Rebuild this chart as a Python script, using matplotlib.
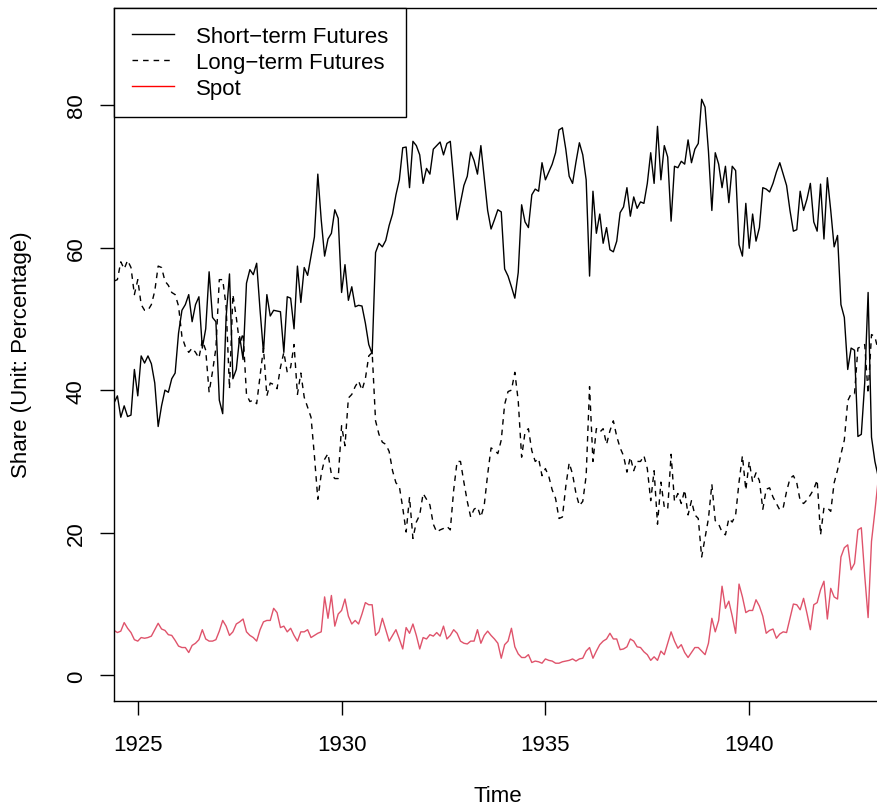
import matplotlib
matplotlib.use("Agg")
import numpy as np
import matplotlib.pyplot as plt
from matplotlib.lines import Line2D

# monthly shares (percent), June 1924 - March 1943
start_year = 1924 + 5 / 12

short_term = [
    38.2,
    39.2, 36.2, 37.8, 36.3, 36.5, 42.9, 39.2, 44.8, 43.8, 44.8, 43.7, 41.0, 34.9, 37.8,
    40.0, 39.7, 41.6, 42.4, 48.0, 51.2, 52.0, 53.4, 49.6, 52.0, 53.1, 45.9, 48.6, 56.6,
    50.2, 49.6, 38.6, 36.7, 50.2, 56.3, 41.6, 42.9, 47.5, 44.3,
    55.0, 56.9, 56.2, 57.8, 51.2, 45.3, 53.4, 50.4, 51.2, 51.1, 51.0, 45.3, 53.1, 52.9,
    48.6, 57.4, 52.3, 57.2, 56.1, 58.8, 61.5, 70.3, 63.9, 58.8, 61.2, 62.0, 65.3, 64.1,
    53.7, 57.6, 52.6, 54.5, 51.7, 51.9, 51.8, 49.4, 46.4, 45.1, 59.3,
    60.6, 60.1, 61.0, 63.1, 64.7, 67.4, 69.5, 74.0, 74.1, 68.4, 74.9, 74.3, 73.0, 69.0,
    71.1, 70.3, 73.8, 74.3, 74.8, 73.0, 74.6, 74.9, 69.5, 63.9, 66.3, 68.7, 70.0, 73.4,
    72.2, 70.3, 74.3, 69.8, 65.2, 62.6, 63.9, 65.3, 65.0,
    57.0, 56.0, 54.5, 52.9, 56.5, 66.0, 63.6, 62.8, 67.4, 68.2, 67.9, 71.9, 69.5, 70.6,
    71.7, 73.3, 76.5, 76.8, 73.8, 70.0, 69.0, 72.0, 74.7, 73.0, 69.5, 56.0, 67.9, 62.0,
    64.7, 60.6, 62.8, 59.7, 59.4, 60.9, 64.9, 65.7, 68.4, 64.4, 67.1,
    65.5, 66.4, 66.2, 69.0, 73.3, 69.0, 77.0, 69.5, 74.3, 72.7, 63.7, 71.4, 71.2, 72.1,
    71.7, 75.1, 71.9, 73.8, 74.6, 80.8, 79.7, 73.5, 65.2, 73.3, 71.7, 68.4, 71.4, 66.3,
    71.4, 70.8, 60.4, 58.8, 66.2, 59.9, 64.7, 60.9, 62.8, 68.4,
    68.2, 67.8, 69.0, 70.6, 71.9, 70.3, 68.7, 65.2, 62.3, 62.5, 67.9, 65.2, 66.8, 69.0,
    63.6, 62.3, 68.9, 61.2, 69.8, 65.2, 60.1, 61.7, 52.0, 50.2, 42.9, 45.9, 45.6, 33.5,
    33.8, 41.0, 53.7, 33.4, 30.0, 27.8,
]

long_term = [
    55.3,
    55.5, 58.0, 57.0, 58.2, 57.2, 53.4, 55.5, 52.0, 51.2, 51.2, 52.0, 53.9, 57.4, 57.2,
    55.3, 54.7, 53.7, 53.4, 51.8, 47.5, 46.1, 45.3, 45.9, 45.3, 44.5, 47.0, 45.6, 39.7,
    42.6, 45.9, 55.5, 55.5, 51.8, 40.2, 53.4, 50.2, 46.4, 48.0,
    39.4, 38.4, 38.6, 38.1, 42.0, 45.9, 39.2, 41.0, 40.8, 40.2, 43.2, 45.3, 42.5, 43.2,
    46.4, 39.4, 42.4, 39.0, 37.6, 36.2, 30.8, 24.7, 28.2, 30.3, 31.1, 28.2, 27.6, 27.6,
    35.0, 32.2, 38.9, 39.4, 40.5, 41.3, 40.0, 41.6, 44.8, 45.3, 35.7,
    33.8, 32.7, 32.4, 31.4, 28.7, 27.0, 26.5, 23.5, 20.1, 25.0, 19.2, 21.5, 22.5, 25.5,
    24.7, 23.9, 21.2, 20.1, 20.4, 20.6, 20.9, 20.4, 26.0, 30.0, 30.0, 27.1, 24.4, 22.2,
    23.3, 23.6, 22.2, 23.9, 28.2, 31.9, 31.6, 31.1, 33.0,
    38.0, 39.8, 40.0, 42.5, 38.5, 30.6, 34.1, 34.6, 31.5, 30.0, 30.4, 28.0, 29.0, 27.9,
    26.0, 24.8, 22.0, 22.2, 26.5, 29.8, 28.2, 25.5, 23.8, 24.4, 28.0, 40.5, 30.0, 34.6,
    34.1, 34.6, 32.4, 34.3, 35.7, 33.5, 31.9, 30.8, 28.5, 30.6, 28.7,
    30.0, 30.0, 30.8, 29.0, 24.5, 28.7, 21.2, 27.1, 23.6, 23.3, 31.0, 24.4, 25.5, 24.1,
    26.0, 22.5, 24.5, 22.5, 22.0, 16.6, 19.3, 22.0, 26.8, 21.7, 21.2, 20.1, 19.7, 22.0,
    21.5, 22.5, 27.1, 30.8, 26.0, 30.0, 27.1,
    28.4, 27.3, 23.3, 26.1, 26.3, 25.0, 24.1, 23.2, 23.5, 25.8, 27.6, 28.0, 27.0, 24.5,
    24.1, 24.6, 25.3, 26.1, 27.4, 19.7, 23.5, 23.5, 23.0, 27.0, 28.8, 31.0, 33.0, 38.5,
    39.5, 39.5, 45.9, 46.1, 46.4, 39.5, 47.8, 47.5, 45.5,
]

spot = [
    6.3,
    6.0, 6.2, 7.4, 6.6, 6.0, 5.0, 4.8, 5.3, 5.2, 5.3, 5.5, 6.4, 7.3, 6.5,
    6.3, 5.7, 5.6, 4.9, 4.1, 3.9, 3.9, 3.2, 4.2, 4.5, 5.0, 6.4, 5.1, 4.8,
    4.8, 5.0, 6.2, 7.7, 6.9, 5.6, 6.1, 7.2, 7.5, 7.9,
    6.1, 5.6, 5.3, 4.8, 6.4, 7.5, 7.7, 7.7, 9.4, 8.8, 6.7, 6.9, 6.1, 6.6,
    5.6, 4.8, 6.1, 6.1, 6.4, 5.3, 5.6, 5.9, 6.1, 11.0, 8.0, 11.2, 6.9, 8.6,
    9.1, 10.7, 8.3, 7.2, 7.7, 7.2, 8.6, 10.2, 9.9, 9.9, 5.6,
    6.1, 8.0, 6.4, 4.8, 5.6, 6.4, 5.1, 3.7, 6.7, 5.9, 7.2, 5.6, 3.7, 5.3,
    5.1, 5.7, 5.5, 6.0, 5.5, 6.9, 5.1, 5.6, 6.4, 5.9, 4.8, 4.5, 4.4, 4.8,
    4.8, 6.4, 4.5, 5.6, 6.2, 5.6, 5.1, 4.5, 2.4,
    4.3, 4.8, 6.6, 4.0, 3.0, 2.5, 2.5, 2.9, 1.8, 2.0, 1.9, 1.7, 2.3, 2.1,
    2.0, 1.7, 1.7, 1.9, 2.0, 2.1, 2.3, 2.0, 2.3, 2.4, 3.4, 3.9, 2.4, 3.4,
    4.3, 4.8, 5.1, 5.9, 5.1, 5.1, 3.6, 3.7, 4.0, 5.1, 4.8,
    4.0, 3.9, 3.3, 2.9, 2.1, 2.6, 2.1, 3.4, 2.9, 4.5, 6.1, 4.8, 3.8, 4.3,
    3.2, 2.5, 3.2, 3.9, 3.9, 3.4, 2.9, 4.5, 8.0, 6.1, 7.7, 12.5, 9.4, 10.4,
    8.3, 5.9, 12.8, 11.0, 8.8, 9.1, 9.1,
    10.6, 9.7, 8.3, 5.9, 6.3, 6.5, 5.2, 5.8, 6.1, 6.0, 8.0, 10.0, 9.9, 9.2,
    10.8, 8.7, 6.4, 9.9, 10.2, 12.0, 13.2, 7.9, 12.2, 11.0, 10.7, 16.6, 17.9, 18.3,
    14.8, 15.7, 20.4, 20.7, 14.0, 8.1, 18.8, 23.0, 27.6,
]

year_ticks = [1925, 1930, 1935, 1940]
share_ticks = [0, 20, 40, 60, 80]
labels = ["Short\u2212term Futures", "Long\u2212term Futures", "Spot"]

months = start_year + np.arange(len(short_term)) / 12

plt.rcParams["font.family"] = ["Liberation Sans", "DejaVu Sans"]
dash = (0, (4, 3.6))

fig = plt.figure(figsize=(8.78, 8.12), dpi=100)
ax = fig.add_axes([114 / 878, 110 / 812, 764.3 / 878, 693 / 812])

ax.plot(months, short_term, color="black", lw=1.0)
ax.plot(months, long_term, color="black", lw=1.0, ls=dash)
ax.plot(months, spot, color="#DF536B", lw=1.0)

ax.set_xlim(months[0], months[-1])
ax.set_ylim(-3.6, 93.6)
ax.set_xticks(year_ticks)
ax.set_yticks(share_ticks)
ax.tick_params(direction="out", length=10, width=1.0, labelsize=16)
ax.tick_params(axis="x", pad=13.5)
ax.tick_params(axis="y", pad=9.5)
for lab in ax.get_yticklabels():
    lab.set_rotation(90)
    lab.set_va("center")

ax.spines["right"].set_visible(False)
for s in ["left", "top", "bottom"]:
    ax.spines[s].set_linewidth(1.0)

fig.text(498 / 878, 1 - 797 / 812, "Time", ha="center", va="center", fontsize=16)
fig.text(22 / 878, 1 - 355 / 812, "Share (Unit: Percentage)", rotation=90,
         ha="center", va="center", fontsize=16)

handles = [Line2D([], [], color="black", lw=1.0),
           Line2D([], [], color="black", lw=1.0, ls=dash),
           Line2D([], [], color="red", lw=1.0)]
leg = ax.legend(handles, labels, loc="upper left", bbox_to_anchor=(0, 1),
                borderaxespad=0, fontsize=16, fancybox=False, framealpha=1,
                edgecolor="black", borderpad=0.82, handlelength=1.9,
                handletextpad=0.95, labelspacing=0.22)
leg.get_frame().set_linewidth(1.0)

fig.savefig("out.png", dpi=100)
